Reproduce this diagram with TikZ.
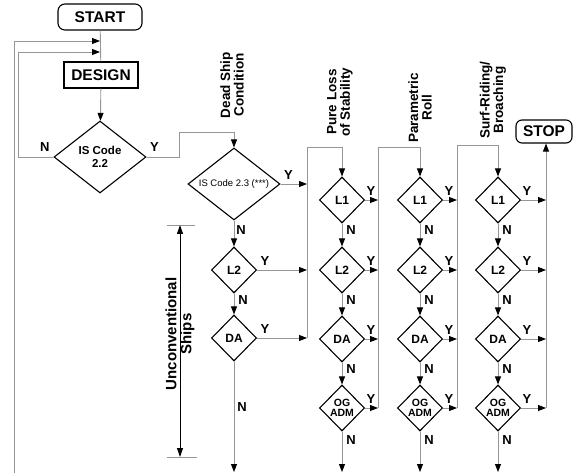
\documentclass[tikz,border=0pt]{standalone}
\usepackage{fontspec}
\setmainfont{Liberation Sans}
\usetikzlibrary{arrows.meta,shapes.geometric,calc}
\definecolor{linegray}{RGB}{150,150,150}

\begin{document}
\begin{tikzpicture}[x=1pt,y=-1pt,
  flow/.style={draw=linegray,line width=0.9pt},
  tip/.style={-{Triangle[length=8pt,width=6pt,color=black]}},
  box/.style={draw,line width=1.1pt,inner sep=0pt,font=\bfseries\fontsize{15.5}{17}\selectfont},
  dec/.style={diamond,draw,line width=1.1pt,inner sep=0pt,minimum width=45pt,minimum height=46pt,align=center,font=\bfseries\fontsize{12}{12}\selectfont},
  yn/.style={inner sep=0pt,font=\bfseries\fontsize{13}{13}\selectfont},
  yl/.style={yn,pos=0,anchor=south west,xshift=1pt,yshift=4pt},
  nl/.style={yn,pos=0,anchor=north west,xshift=4pt,yshift=-1.5pt},
  head/.style={rotate=90,align=center,font=\bfseries\fontsize{13.5}{13.5}\selectfont}]
  \useasboundingbox (0,0) rectangle (573,473);
  % boxes and the first two tests
  \node[box,rounded corners=7pt,minimum width=84pt,minimum height=26pt] (start) at (100,17) {START};
  \node[box,minimum width=74pt,minimum height=26pt] (design) at (101,75) {DESIGN};
  \node[dec,aspect=1.28,minimum width=92pt,minimum height=72pt,font=\bfseries\fontsize{11.5}{12.5}\selectfont] (is22) at (100,157) {IS Code\\2.2};
  \node[dec,aspect=1.28,minimum width=92pt,minimum height=72pt,font=\fontsize{9.5}{9.5}\selectfont] (is23) at (234,184) {IS Code 2.3 (***)};
  \node[dec] (c0l2) at (234,270) {L2};
  \node[dec] (c0da) at (234,338) {DA};
  \node[box,rounded corners=6pt,minimum width=56pt,minimum height=23pt] (stop) at (544,131.5) {STOP};
  \coordinate (in1) at (100,41); \coordinate (in2) at (100,52); \coordinate (loop) at (14,473);
  \coordinate (bar1) at (307,147); \coordinate (bar2) at (378,147); \coordinate (bar3) at (457,145); \coordinate (bar4) at (546,409);
  \coordinate (floor) at (0,472);
  % headings
  \node[head] (hdead) at (232,85) {Dead Ship\\Condition};
  \node[head] (hpure) at (340,102) {Pure Loss\\of Stability};
  \node[head] (hpar) at (420,108) {Parametric\\Roll};
  \node[head] (hsurf) at (493,100) {Surf-Riding/\\Broaching};
  % main line
  \draw[flow] (start) -- (design);
  \draw[flow,tip] (design) -- (is22);
  \draw[flow,tip] (loop) |- (in1);
  \draw[flow,tip] (is22.west) -- node[yn,pos=0,anchor=south east,xshift=-3.5pt,yshift=5.5pt]{N} ++(-35,0) |- (in2);
  \draw[flow,tip] (is22.east) -- node[yn,pos=0,anchor=south west,xshift=3pt,yshift=5pt]{Y} ++(33,0) |- ([yshift=15pt]is23.north) -- (is23.north);
  \draw[flow,tip] (is23) -- node[nl,xshift=-2pt,yshift=-3pt]{N} (c0l2);
  \draw[flow,tip] (c0l2) -- node[nl]{N} (c0da);
  \draw[flow,tip] (c0da) -- node[yn,pos=0.41,anchor=west,xshift=3pt]{N} (c0da |- floor);
  \draw[flow,tip] (is23.east) -- node[yl,xshift=2pt]{Y} (is23.east -| bar1);
  \foreach \d in {c0l2,c0da} \draw[flow,tip] (\d.east) -- node[yl,xshift=2pt]{Y} (\d.east -| bar1);
  % the three criteria columns
  \foreach \c/\x/\n in {1/342/2,2/420/3,3/498/4}{
    \node[dec] (c\c-l1) at (\x,200) {L1};
    \node[dec] (c\c-l2) at (\x,270) {L2};
    \node[dec] (c\c-da) at (\x,339) {DA};
    \node[dec,font=\bfseries\fontsize{10.5}{10.5}\selectfont] (c\c-og) at (\x,408) {OG\\ADM};
    \draw[flow,tip] (c\c-l1) -- node[nl]{N} (c\c-l2);
    \draw[flow,tip] (c\c-l2) -- node[nl]{N} (c\c-da);
    \draw[flow,tip] (c\c-da) -- node[nl]{N} (c\c-og);
    \draw[flow,tip] (c\c-og) -- node[nl,yshift=-2pt]{N} (c\c-og |- floor);
    \foreach \r in {l1,l2,da,og} \draw[flow,tip] (c\c-\r.east) -- node[yl]{Y} (c\c-\r.east -| bar\n);
  }
  % bars that feed the next column
  \draw[flow,tip] (bar1 |- c0da.east) -- (bar1) -| (c1-l1.north);
  \draw[flow,tip] (bar2 |- c1-og.east) -- (bar2) -| (c2-l1.north);
  \draw[flow,tip] (bar3 |- c2-og.east) -- (bar3) -| (c3-l1.north);
  \draw[flow,tip] (bar4 |- c3-og.east) -- (bar4 |- stop.south);
  % unconventional ships range
  \coordinate (dimtop) at (180,225); \coordinate (dimbot) at (180,457);
  \draw[flow,line width=0.7pt] ([xshift=-13pt]dimtop) -- ([xshift=15pt]dimtop);
  \draw[flow,line width=0.7pt] ([xshift=-13pt]dimbot) -- ([xshift=17pt]dimbot);
  \draw[line width=1pt,{Triangle[length=9pt,width=6pt]}-{Triangle[length=9pt,width=6pt]}] (dimtop) -- node[head,pos=0.47,font=\bfseries\fontsize{15}{15}\selectfont]{Unconventional\\Ships} (dimbot);
\end{tikzpicture}
\end{document}
